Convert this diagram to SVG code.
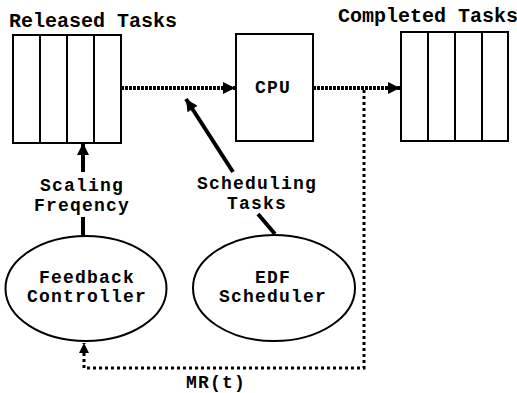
<svg xmlns="http://www.w3.org/2000/svg" width="517" height="393" viewBox="0 0 517 393">
<style>
text{font-family:"Liberation Mono","DejaVu Sans Mono",monospace;font-weight:bold;font-size:18px;letter-spacing:1.2px;fill:#000}
text.title{font-size:20px;letter-spacing:0}
.box{fill:#fff;stroke:#000;stroke-width:2}
.div{stroke:#000;stroke-width:2}
.ell{fill:#fff;stroke:#000;stroke-width:2}
.flow{fill:none;stroke:#000;stroke-width:4;stroke-dasharray:3 1}
.fb{fill:none;stroke:#000;stroke-width:3;stroke-dasharray:3 3}
.thick{fill:none;stroke:#000;stroke-width:4}
</style>
<defs>
<marker id="ah" viewBox="0 0 10 10" refX="10" refY="5" markerUnits="userSpaceOnUse" markerWidth="14" markerHeight="12" orient="auto">
<path d="M0,0 L10,5 L0,10 Z" fill="#000"/>
</marker>
<marker id="ah2" viewBox="0 0 10 10" refX="10" refY="5" markerUnits="userSpaceOnUse" markerWidth="12" markerHeight="10" orient="auto">
<path d="M0,0 L10,5 L0,10 Z" fill="#000"/>
</marker>
</defs>
<rect width="517" height="393" fill="#fff"/>
<g id="released">
<text class="title" x="9" y="27">Released Tasks</text>
<rect class="box" x="13" y="35" width="108" height="108"/>
<line class="div" x1="40" y1="35" x2="40" y2="143"/>
<line class="div" x1="67" y1="35" x2="67" y2="143"/>
<line class="div" x1="94" y1="35" x2="94" y2="143"/>
</g>
<g id="cpu">
<rect class="box" x="236" y="34" width="77" height="107"/>
<text x="273" y="93" text-anchor="middle">CPU</text>
</g>
<g id="completed">
<text class="title" x="338" y="22">Completed Tasks</text>
<rect class="box" x="401" y="32" width="107" height="109"/>
<line class="div" x1="428" y1="32" x2="428" y2="141"/>
<line class="div" x1="455" y1="32" x2="455" y2="141"/>
<line class="div" x1="482" y1="32" x2="482" y2="141"/>
</g>
<g id="feedback">
<ellipse class="ell" cx="86" cy="288.5" rx="80.5" ry="52.5"/>
<text x="87" y="283" text-anchor="middle">Feedback</text>
<text x="87" y="302" text-anchor="middle">Controller</text>
</g>
<g id="edf">
<ellipse class="ell" cx="274" cy="288" rx="81" ry="53"/>
<text x="273" y="283" text-anchor="middle">EDF</text>
<text x="273" y="302" text-anchor="middle">Scheduler</text>
</g>
<g id="connectors">
<line class="flow" x1="121" y1="88" x2="235" y2="88" marker-end="url(#ah)"/>
<line class="flow" x1="313" y1="88" x2="400" y2="88" marker-end="url(#ah)"/>
<line class="thick" x1="233" y1="172" x2="186" y2="99" marker-end="url(#ah)"/>
<line class="thick" x1="258" y1="214" x2="275" y2="234"/>
<line class="thick" x1="83" y1="172" x2="83" y2="143" marker-end="url(#ah)"/>
<line class="thick" x1="83" y1="217" x2="83" y2="236"/>
<polyline class="fb" points="364,90 364,368 84,368 84,343" marker-end="url(#ah2)"/>
<text x="216" y="388" text-anchor="middle">MR(t)</text>
<text x="82" y="191" text-anchor="middle">Scaling</text>
<text x="82" y="211" text-anchor="middle">Freqency</text>
<text x="257" y="189" text-anchor="middle">Scheduling</text>
<text x="257" y="209" text-anchor="middle">Tasks</text>
</g>
</svg>
